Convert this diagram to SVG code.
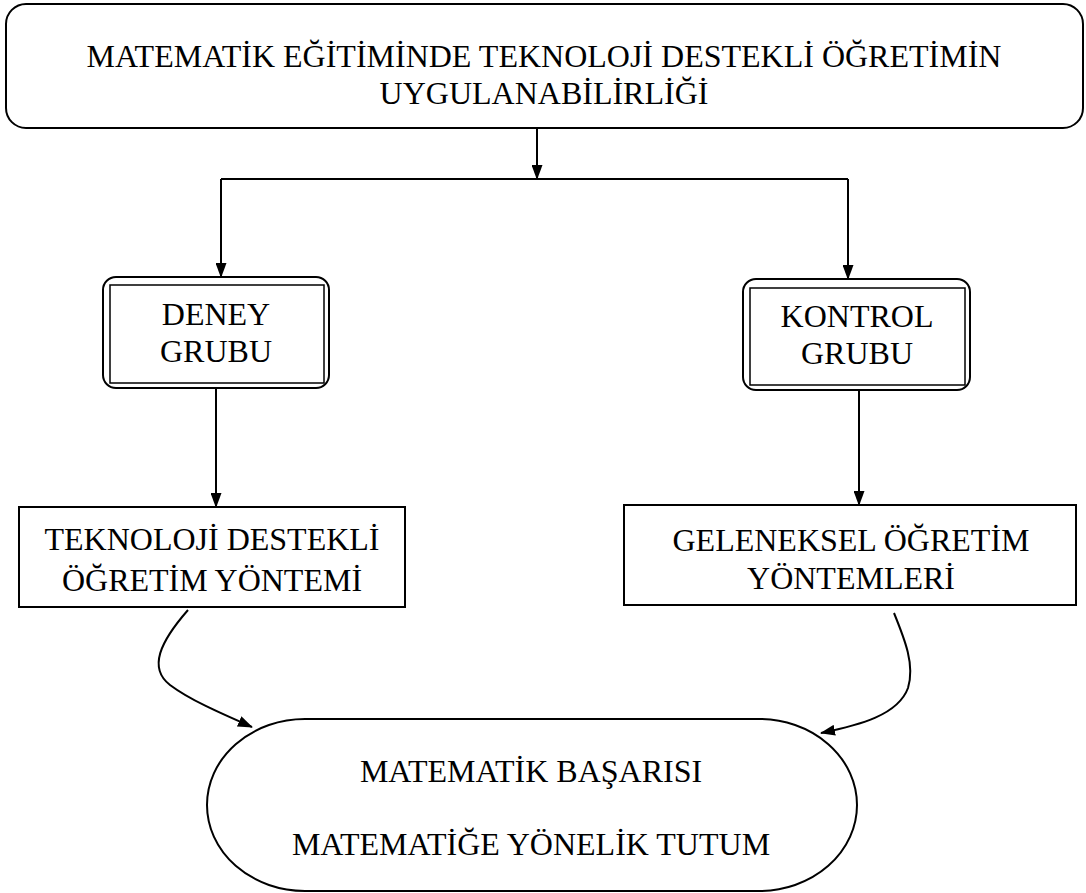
<svg xmlns="http://www.w3.org/2000/svg" width="1086" height="893" viewBox="0 0 1086 893">
<defs>
<marker id="ah" viewBox="0 0 15 11" refX="14" refY="5.5" markerWidth="15" markerHeight="11" markerUnits="userSpaceOnUse" orient="auto">
<path d="M0,0 L15,5.5 L0,11 Z" fill="#000"/>
</marker>
<style>
.t{font-family:"Liberation Serif","Times New Roman",serif;font-size:32px;fill:#000;text-anchor:middle}
.b{fill:#fff;stroke:#000;stroke-width:2}
.b1{fill:none;stroke:#000;stroke-width:1.5}
.c{fill:none;stroke:#000;stroke-width:2}
</style>
</defs>
<rect width="1086" height="893" fill="#fff"/>
<g id="top">
<rect class="b" x="6" y="4" width="1077" height="124" rx="20"/>
<text class="t" x="544" y="67">MATEMATİK EĞİTİMİNDE TEKNOLOJİ DESTEKLİ ÖĞRETİMİN</text>
<text class="t" x="544" y="104">UYGULANABİLİRLİĞİ</text>
</g>
<g id="deney">
<rect class="b" x="103" y="277" width="226" height="111" rx="13"/>
<rect class="b1" x="110" y="285" width="214" height="98"/>
<text class="t" x="216" y="325">DENEY</text>
<text class="t" x="216" y="362">GRUBU</text>
</g>
<g id="kontrol">
<rect class="b" x="743" y="279" width="227" height="111" rx="13"/>
<rect class="b1" x="750" y="288" width="215" height="97"/>
<text class="t" x="857" y="327">KONTROL</text>
<text class="t" x="857" y="364">GRUBU</text>
</g>
<g id="teknoloji">
<rect class="b" x="19" y="507" width="386" height="100"/>
<text class="t" x="212" y="550">TEKNOLOJİ DESTEKLİ</text>
<text class="t" x="212" y="591">ÖĞRETİM YÖNTEMİ</text>
</g>
<g id="geleneksel">
<rect class="b" x="624" y="505" width="452" height="100"/>
<text class="t" x="851" y="551">GELENEKSEL ÖĞRETİM</text>
<text class="t" x="851" y="589">YÖNTEMLERİ</text>
</g>
<g id="sonuc">
<rect class="b" x="207" y="719" width="650" height="172" rx="98" ry="86"/>
<text class="t" x="531" y="782">MATEMATİK BAŞARISI</text>
<text class="t" x="531" y="855">MATEMATİĞE YÖNELİK TUTUM</text>
</g>
<g id="connectors">
<line class="c" x1="537" y1="128" x2="537" y2="179" marker-end="url(#ah)"/>
<line class="c" x1="221" y1="179" x2="848" y2="179"/>
<line class="c" x1="221" y1="179" x2="221" y2="277" marker-end="url(#ah)"/>
<line class="c" x1="848" y1="179" x2="848" y2="279" marker-end="url(#ah)"/>
<line class="c" x1="216" y1="388" x2="216" y2="507" marker-end="url(#ah)"/>
<line class="c" x1="859" y1="390" x2="859" y2="505" marker-end="url(#ah)"/>
<path class="c" d="M188,610 C160,642 148,668 170,685 C190,700 220,713 252,727" marker-end="url(#ah)"/>
<path class="c" d="M894,613 C905,640 915,665 908,688 C898,715 860,725 821,733" marker-end="url(#ah)"/>
</g>
</svg>
